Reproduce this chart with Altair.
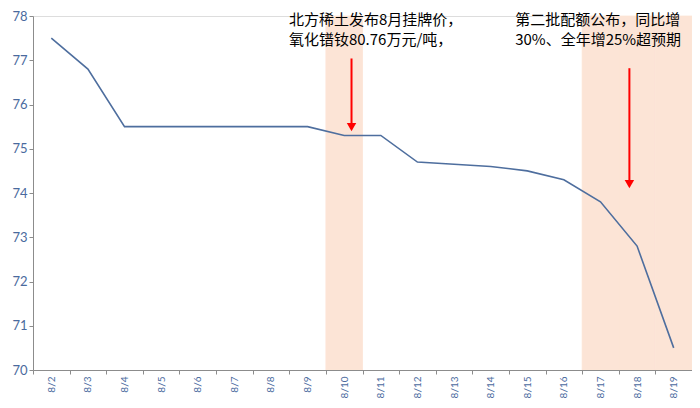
import altair as alt
import pandas as pd

dates = ["8/2", "8/3", "8/4", "8/5", "8/6", "8/7", "8/8", "8/9", "8/10",
         "8/11", "8/12", "8/13", "8/14", "8/15", "8/16", "8/17", "8/18", "8/19"]
prices = [77.5, 76.8, 75.5, 75.5, 75.5, 75.5, 75.5, 75.5, 75.3,
          75.3, 74.7, 74.65, 74.6, 74.5, 74.3, 73.8, 72.8, 70.5]

shade_dates = ["8/10", "8/17", "8/18", "8/19"]

notes = ["北方稀土发布8月挂牌价，\n氧化镨钕80.76万元/吨，",
         "第二批配额公布，同比增\n30%、全年增25%超预期"]
note_x = [6.99, 13.17]
note_y = [78.06, 78.06]

arrow_x = [8.70, 16.29]
arrow_top = [77.04, 76.82]
arrow_head = [75.49, 74.20]

W, H = 659, 354

line_df = pd.DataFrame({"date": dates, "price": prices})
shade_df = pd.DataFrame({"date": shade_dates, "lo": [70] * len(shade_dates), "hi": [78] * len(shade_dates)})
note_df = pd.DataFrame({"x": note_x, "y": note_y, "text": notes})
arrow_df = pd.DataFrame({"x": arrow_x, "top": arrow_top, "head": arrow_head})

xband = alt.X("date:N", sort=dates, title=None,
              scale=alt.Scale(type="band", domain=dates, paddingInner=0, paddingOuter=0),
              axis=alt.Axis(tickBand="extent", labelAngle=270, labelAlign="right",
                            labelBaseline="middle", labelFontSize=10, labelColor="#4A6A9E",
                            labelFont="Lato", domainColor="#8C8C8C", tickColor="#8C8C8C",
                            tickSize=4, labelPadding=2, grid=False, orient="bottom"))
yscale = alt.Scale(domain=[70, 78], nice=False, zero=False)
yenc = alt.Y("price:Q", scale=yscale, title=None,
             axis=alt.Axis(values=list(range(70, 79)), labelFontSize=13, labelColor="#4A6A9E",
                           labelFont="Lato", domainColor="#8C8C8C", tickColor="#8C8C8C",
                           tickSize=4, labelPadding=2, grid=False))

shade = alt.Chart(shade_df).mark_rect(color="#FCE4D6", stroke="#FCE4D6", strokeWidth=0.8).encode(
    x=xband,
    y=alt.Y("lo:Q", scale=yscale),
    y2="hi:Q",
)

line = alt.Chart(line_df).mark_line(color="#4E6E9E", strokeWidth=1.6).encode(
    x=xband,
    y=yenc,
)

base = alt.layer(shade, line)

xq = alt.X("x:Q", scale=alt.Scale(domain=[0, 18], nice=False, zero=False), axis=None)

text = alt.Chart(note_df).mark_text(align="left", baseline="top", fontSize=15,
                                     font="Noto Sans CJK SC", color="#000000",
                                     lineBreak="\n", lineHeight=20).encode(
    x=xq,
    y=alt.Y("y:Q", scale=yscale),
    text="text:N",
)

shaft = alt.Chart(arrow_df).mark_rule(color="#FF0000", strokeWidth=2).encode(
    x=xq,
    y=alt.Y("top:Q", scale=yscale),
    y2="head:Q",
)

head = alt.Chart(arrow_df).mark_point(shape="triangle-down", filled=True, color="#FF0000",
                                      size=90, opacity=1).encode(
    x=xq,
    y=alt.Y("head:Q", scale=yscale),
)

annot = alt.layer(text, shaft, head)

chart = alt.layer(base, annot).resolve_scale(x="independent").properties(
    width=W, height=H,
    padding={"left": 25, "top": 8, "right": 0, "bottom": 30},
    autosize=alt.AutoSizeParams(type="none"),
).configure_view(strokeWidth=0).configure(background="white")

chart.save("out.html", embed_options={"renderer": "svg", "actions": False})
